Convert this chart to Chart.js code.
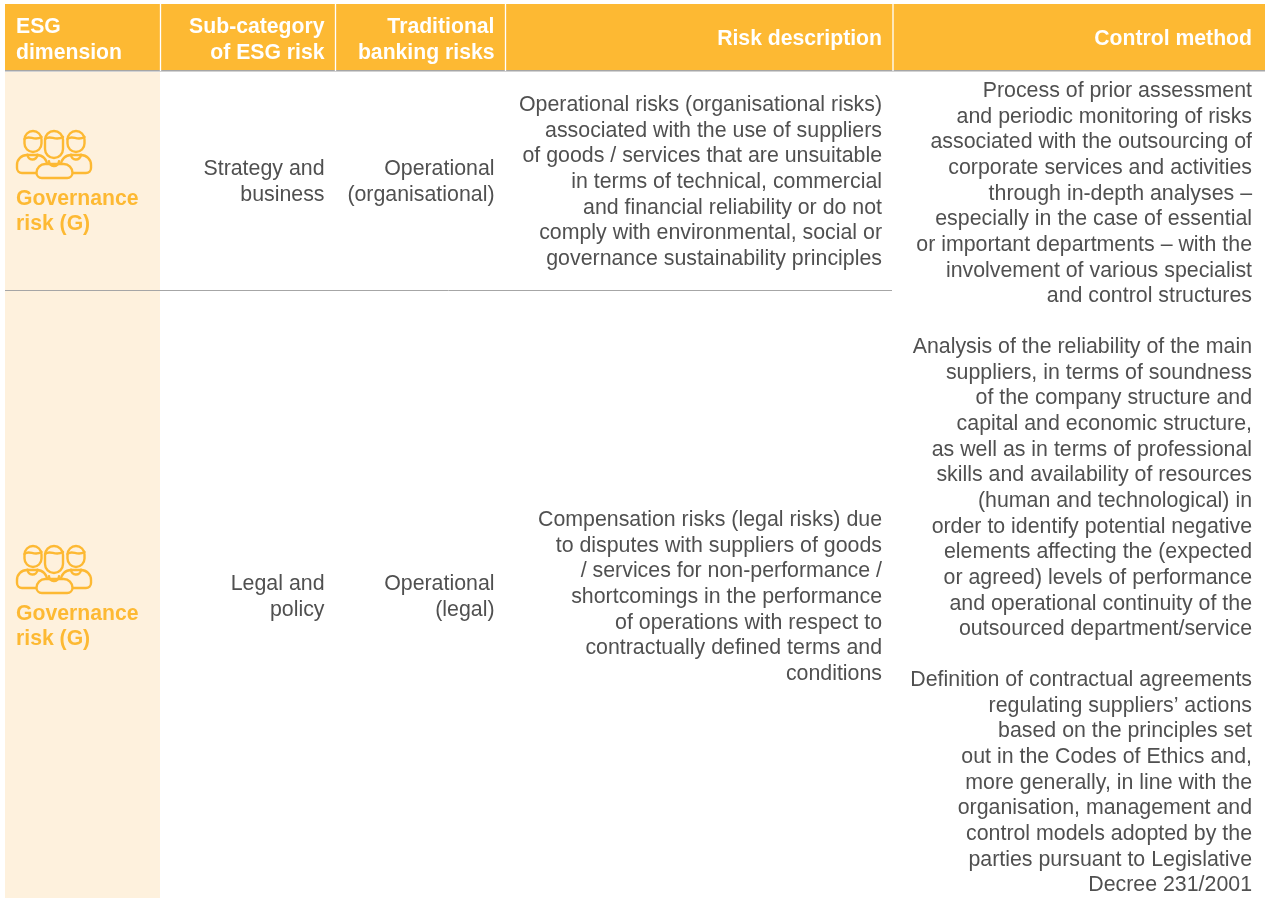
<!DOCTYPE html>
<html>
<head>
<meta charset="utf-8">
<script src="https://cdn.jsdelivr.net/npm/chart.js@4"></script>
<style>html,body{margin:0;padding:0;background:#fff}canvas{display:block}</style>
</head>
<body>
<canvas id="c" width="1265" height="898"></canvas>
<script>
// ---- table content ----
const headers = [
  ["ESG", "dimension"],
  ["Sub-category", "of ESG risk"],
  ["Traditional", "banking risks"],
  ["Risk description"],
  ["Control method"]
];
const dimensionLabel = ["Governance", "risk (G)"];
const subCategories = [["Strategy and", "business"], ["Legal and", "policy"]];
const bankingRisks = [["Operational", "(organisational)"], ["Operational", "(legal)"]];
const riskDescriptions = [
  ["Operational risks (organisational risks)", "associated with the use of suppliers", "of goods / services that are unsuitable", "in terms of technical, commercial", "and financial reliability or do not", "comply with environmental, social or", "governance sustainability principles"],
  ["Compensation risks (legal risks) due", "to disputes with suppliers of goods", "/ services for non-performance /", "shortcomings in the performance", "of operations with respect to", "contractually defined terms and", "conditions"]
];
const controlMethods = [
  ["Process of prior assessment", "and periodic monitoring of risks", "associated with the outsourcing of", "corporate services and activities", "through in-depth analyses –", "especially in the case of essential", "or important departments – with the", "involvement of various specialist", "and control structures"],
  ["Analysis of the reliability of the main", "suppliers, in terms of soundness", "of the company structure and", "capital and economic structure,", "as well as in terms of professional", "skills and availability of resources", "(human and technological) in", "order to identify potential negative", "elements affecting the (expected", "or agreed) levels of performance", "and operational continuity of the", "outsourced department/service"],
  ["Definition of contractual agreements", "regulating suppliers’ actions", "based on the principles set", "out in the Codes of Ethics and,", "more generally, in line with the", "organisation, management and", "control models adopted by the", "parties pursuant to Legislative", "Decree 231/2001"]
];

// ---- layout (not data) ----
const W = 1265, H = 898;
const ORANGE = "#FDB933", CREAM = "#FEF1DD", RULE = "#A6A6A6", INK = "#505050";
const LH = 25.65;
const BODY = '21.35px "Liberation Sans"', BOLD = 'bold 21.2px "Liberation Sans"';

const rect = (x0, y0, x1, y1) => [{x:x0,y:y0},{x:x1,y:y0},{x:x1,y:y1},{x:x0,y:y1},{x:x0,y:y0}];
const shape = (pts, c) => ({data: pts, fill: "shape", backgroundColor: c, borderWidth: 0, pointRadius: 0, tension: 0});
const line = (pts, c, w) => ({data: pts, fill: false, borderColor: c, borderWidth: w, pointRadius: 0, tension: 0});

function people(ctx, sx, sy, oy) {
  const P = (x, y) => [sx(x), sy(y + oy)];
  const rr = (x0, y0, x1, y1, r) => { const [a,b]=P(x0,y0),[c,d]=P(x1,y1); ctx.beginPath(); ctx.roundRect(a,b,c-a,d-b,r); };
  ctx.save();
  ctx.strokeStyle = ORANGE; ctx.lineWidth = 2.4; ctx.lineJoin = "round"; ctx.lineCap = "round";
  const body = (x0, x1, y0, y1, r) => { rr(x0,y0,x1,y1,r); ctx.fillStyle = CREAM; ctx.fill(); ctx.stroke(); };
  const head = (x0, x1, y0, y1) => {
    const r = (x1-x0)/2;
    rr(x0,y0,x1,y1,[r,r,r,r]); ctx.fillStyle = CREAM; ctx.fill(); ctx.stroke();
    const w = x1-x0; ctx.beginPath();
    let p = P(x0, y0+8); ctx.moveTo(p[0],p[1]);
    const c1=P(x0+w*.3,y0+3), c2=P(x0+w*.55,y0+11), e=P(x1,y0+6);
    ctx.bezierCurveTo(c1[0],c1[1],c2[0],c2[1],e[0],e[1]); ctx.stroke();
  };
  const collar = (cx, y) => {
    ctx.beginPath(); let p=P(cx,y); ctx.arc(p[0],p[1]-0.5,5,0.02*Math.PI,0.98*Math.PI); ctx.stroke();
  };
  body(17,47,155,173,[10,10,5,5]); body(61,91,155,173,[10,10,5,5]);
  head(24.5,41.5,131,152); head(67.5,84.5,131,152);
  collar(32.5,155); collar(76,155);
  body(36.5,72.5,164,178,[10,10,6,6]);
  head(45,63,131,158);
  collar(54,161.5);
  ctx.restore();
}

const tablePlugin = {
  id: "tableText",
  afterDatasetsDraw(chart) {
    const {ctx, scales:{x, y}} = chart;
    const sx = v => x.getPixelForValue(v), sy = v => y.getPixelForValue(v);
    const put = (lines, px, firstBaseline, align, font, color) => {
      ctx.font = font; ctx.fillStyle = color; ctx.textAlign = align; ctx.textBaseline = "alphabetic";
      lines.forEach((t, i) => ctx.fillText(t, sx(px), sy(firstBaseline + i * LH)));
    };
    ctx.save();
    put(headers[0], 16, 33, "left", BOLD, "#fff");
    put(headers[1], 324.5, 33, "right", BOLD, "#fff");
    put(headers[2], 494.5, 33, "right", BOLD, "#fff");
    put(headers[3], 882, 45, "right", BOLD, "#fff");
    put(headers[4], 1252, 45, "right", BOLD, "#fff");
    [0, 415].forEach(oy => {
      people(ctx, sx, sy, oy);
      put(dimensionLabel, 16, 204.5 + oy, "left", BOLD, ORANGE);
    });
    put(subCategories[0], 324.5, 175, "right", BODY, INK);
    put(subCategories[1], 324.5, 590, "right", BODY, INK);
    put(bankingRisks[0], 494.5, 175, "right", BODY, INK);
    put(bankingRisks[1], 494.5, 590, "right", BODY, INK);
    put(riskDescriptions[0], 882, 111, "right", BODY, INK);
    put(riskDescriptions[1], 882, 526, "right", BODY, INK);
    put(controlMethods[0], 1252, 97, "right", BODY, INK);
    put(controlMethods[1], 1252, 353, "right", BODY, INK);
    put(controlMethods[2], 1252, 686, "right", BODY, INK);
    ctx.restore();
  }
};

new Chart(document.getElementById("c"), {
  type: "line",
  data: {
    // Chart.js paints the first dataset on top, so the overlays come first
    datasets: [
      line([{x:160.5,y:4},{x:160.5,y:71}], "#fff", 1.3),
      line([{x:335.5,y:4},{x:335.5,y:71}], "#fff", 1.3),
      line([{x:505.5,y:4},{x:505.5,y:71}], "#fff", 1.3),
      line([{x:893,y:4},{x:893,y:71}], "#fff", 1.3),
      line([{x:5,y:70.8},{x:1265,y:70.8}], RULE, 1.6),
      line([{x:5,y:290.5},{x:892,y:290.5}], RULE, 1),
      shape(rect(5, 4, 1265, 70), ORANGE),
      shape(rect(5, 72, 160, 898), CREAM)
    ]
  },
  options: {
    responsive: false, animation: false, events: [],
    layout: {padding: 0},
    plugins: {legend: {display: false}, tooltip: {enabled: false}, title: {display: false}},
    scales: {
      x: {type: "linear", min: 0, max: W, display: false},
      y: {type: "linear", min: 0, max: H, reverse: true, display: false}
    }
  },
  plugins: [tablePlugin]
});
</script>
</body>
</html>
